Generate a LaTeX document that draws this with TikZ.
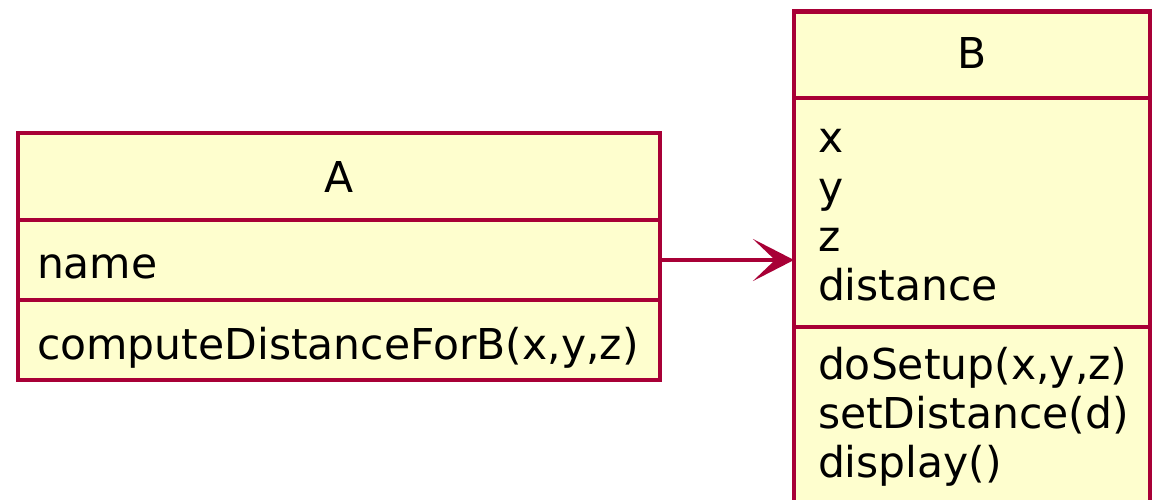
\documentclass[tikz,border=0pt]{standalone}
\usepackage{fontspec}
\setmainfont{DejaVu Sans}
\usetikzlibrary{arrows.meta}
\definecolor{umlred}{HTML}{A80036}
\definecolor{umlfill}{HTML}{FEFECE}
\begin{document}
\begin{tikzpicture}[x=1pt,y=-1pt,
  compart/.style={draw=umlred, fill=umlfill, line width=4.5pt, inner sep=0pt, outer sep=0pt, anchor=north west},
  lbl/.style={inner sep=0pt, outer sep=0pt, anchor=base west, text=black, font=\fontsize{42.5}{49}\selectfont},
  title/.style={inner sep=0pt, outer sep=0pt, anchor=base, text=black, font=\fontsize{42.5}{49}\selectfont},
  conn/.style={draw=umlred, line width=3.5pt, -{Stealth[length=41pt,width=42pt,inset=22pt]}}]
\useasboundingbox (0,0) rectangle (1153,500);
% class A
\node[compart, minimum width=642pt, minimum height=87pt] (Ahead) at (18,133) {};
\node[compart, minimum width=642pt, minimum height=80pt] (Aattr) at (18,220) {};
\node[compart, minimum width=642pt, minimum height=80pt] (Ameth) at (18,300) {};
\node[title] (Aname) at (339,192) {A};
\node[lbl] (Aa1) at (37,278) {name};
\node[lbl] (Am1) at (37,359) {computeDistanceForB(x,y,z)};
% class B
\node[compart, minimum width=356pt, minimum height=86.5pt] (Bhead) at (794,11.5) {};
\node[compart, minimum width=356pt, minimum height=229pt] (Battr) at (794,98) {};
\node[compart, minimum width=356pt, minimum height=190pt] (Bmeth) at (794,327) {};
\node[title] (Bname) at (972,69) {B};
\node[lbl] (Ba1) at (818,153) {x};
\node[lbl] (Ba2) at (818,202) {y};
\node[lbl] (Ba3) at (818,251) {z};
\node[lbl] (Ba4) at (818,300) {distance};
\node[lbl] (Bm1) at (818,379) {doSetup(x,y,z)};
\node[lbl] (Bm2) at (818,428) {setDistance(d)};
\node[lbl] (Bm3) at (818,477) {display()};
% association
\draw[conn] (Aattr.east) -- (Aattr.east -| Battr.west);
\end{tikzpicture}
\end{document}
